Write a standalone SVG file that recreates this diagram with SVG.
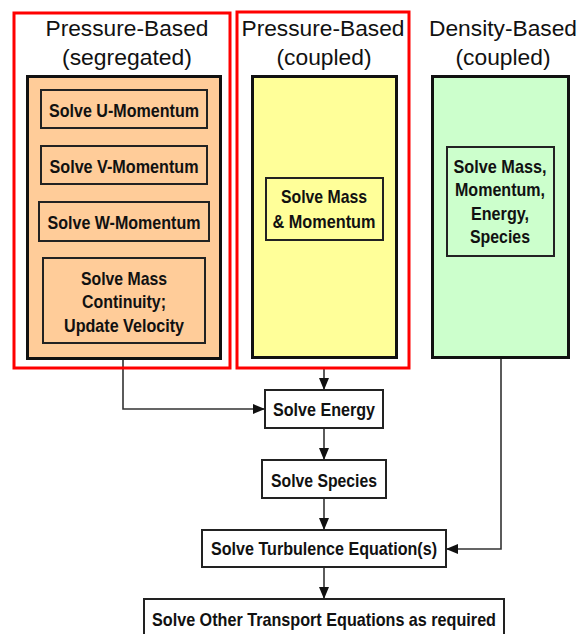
<svg xmlns="http://www.w3.org/2000/svg" width="587" height="634" viewBox="0 0 587 634">
<defs>
<style>
.title{font-family:"Liberation Sans",Arial,sans-serif;font-size:22px;fill:#111;text-anchor:middle}
.lbl{font-family:"Liberation Sans",Arial,sans-serif;font-size:18.5px;font-weight:bold;fill:#111;text-anchor:middle}
.cont{stroke:#111;stroke-width:3}
.box{stroke:#222;stroke-width:2}
.red{fill:none;stroke:#ff0000;stroke-width:3}
.conn{fill:none;stroke:#333;stroke-width:1.6}
</style>
<marker id="arr" markerUnits="userSpaceOnUse" markerWidth="12" markerHeight="10" refX="11" refY="5" orient="auto">
<path d="M0,0 L12,5 L0,10 z" fill="#111"/>
</marker>
</defs>
<rect width="587" height="634" fill="#fff"/>

<g id="connectors">
<path class="conn" d="M123,359 V409 H264" marker-end="url(#arr)"/>
<path class="conn" d="M324,368 V389" marker-end="url(#arr)"/>
<path class="conn" d="M324,428 V459" marker-end="url(#arr)"/>
<path class="conn" d="M324,498 V529" marker-end="url(#arr)"/>
<path class="conn" d="M501,358 V549 H447" marker-end="url(#arr)"/>
<path class="conn" d="M324,567 V598" marker-end="url(#arr)"/>
</g>

<g id="segregated">
<rect class="cont" x="27.5" y="76.5" width="193" height="282" fill="#ffcc99"/>
<text class="title" x="127" y="36" textLength="163" lengthAdjust="spacingAndGlyphs">Pressure-Based</text>
<text class="title" x="127" y="65" textLength="130" lengthAdjust="spacingAndGlyphs">(segregated)</text>
</g>
<g id="u-momentum">
<rect class="box" x="41" y="90" width="166" height="38" fill="#ffcc99"/>
<text class="lbl" x="124" y="117" textLength="150" lengthAdjust="spacingAndGlyphs">Solve U-Momentum</text>
</g>
<g id="v-momentum">
<rect class="box" x="41" y="146" width="166" height="38" fill="#ffcc99"/>
<text class="lbl" x="124" y="173" textLength="149" lengthAdjust="spacingAndGlyphs">Solve V-Momentum</text>
</g>
<g id="w-momentum">
<rect class="box" x="39" y="202" width="170" height="39" fill="#ffcc99"/>
<text class="lbl" x="124" y="229" textLength="153" lengthAdjust="spacingAndGlyphs">Solve W-Momentum</text>
</g>
<g id="mass-continuity">
<rect class="box" x="43" y="258" width="162" height="85" fill="#ffcc99"/>
<text class="lbl" x="124" y="285" textLength="86" lengthAdjust="spacingAndGlyphs">Solve Mass</text>
<text class="lbl" x="124" y="308" textLength="84" lengthAdjust="spacingAndGlyphs">Continuity;</text>
<text class="lbl" x="124" y="332" textLength="120" lengthAdjust="spacingAndGlyphs">Update Velocity</text>
</g>
<rect id="red-segregated" class="red" x="14" y="13" width="216" height="355"/>

<g id="pb-coupled">
<rect class="cont" x="252.5" y="76.5" width="144" height="281" fill="#ffff99"/>
<text class="title" x="323" y="36" textLength="163" lengthAdjust="spacingAndGlyphs">Pressure-Based</text>
<text class="title" x="324" y="65" textLength="95" lengthAdjust="spacingAndGlyphs">(coupled)</text>
</g>
<g id="mass-momentum">
<rect class="box" x="266" y="178" width="117" height="62" fill="#ffff99"/>
<text class="lbl" x="324" y="203" textLength="86" lengthAdjust="spacingAndGlyphs">Solve Mass</text>
<text class="lbl" x="324" y="228" textLength="103" lengthAdjust="spacingAndGlyphs">&amp; Momentum</text>
</g>
<rect id="red-coupled" class="red" x="237" y="12" width="172" height="356"/>

<g id="db-coupled">
<rect class="cont" x="432.5" y="76.5" width="136" height="281" fill="#ccffcc"/>
<text class="title" x="503" y="36" textLength="148" lengthAdjust="spacingAndGlyphs">Density-Based</text>
<text class="title" x="503" y="65" textLength="95" lengthAdjust="spacingAndGlyphs">(coupled)</text>
</g>
<g id="mass-momentum-energy-species">
<rect class="box" x="447" y="147" width="107" height="109" fill="#ccffcc"/>
<text class="lbl" x="500" y="173" textLength="93" lengthAdjust="spacingAndGlyphs">Solve Mass,</text>
<text class="lbl" x="500" y="196" textLength="90" lengthAdjust="spacingAndGlyphs">Momentum,</text>
<text class="lbl" x="500" y="220" textLength="58" lengthAdjust="spacingAndGlyphs">Energy,</text>
<text class="lbl" x="500" y="243" textLength="60" lengthAdjust="spacingAndGlyphs">Species</text>
</g>

<g id="energy">
<rect class="box" x="265" y="390" width="118" height="38" fill="#fff"/>
<text class="lbl" x="324" y="416" textLength="102" lengthAdjust="spacingAndGlyphs">Solve Energy</text>
</g>
<g id="species">
<rect class="box" x="262" y="460" width="124" height="38" fill="#fff"/>
<text class="lbl" x="324" y="487" textLength="106" lengthAdjust="spacingAndGlyphs">Solve Species</text>
</g>
<g id="turbulence">
<rect class="box" x="202" y="530" width="244" height="37" fill="#fff"/>
<text class="lbl" x="324" y="555" textLength="226" lengthAdjust="spacingAndGlyphs">Solve Turbulence Equation(s)</text>
</g>
<g id="other-transport">
<rect class="box" x="144" y="599" width="360" height="45" fill="#fff"/>
<text class="lbl" x="324" y="626" textLength="344" lengthAdjust="spacingAndGlyphs">Solve Other Transport Equations as required</text>
</g>
</svg>
